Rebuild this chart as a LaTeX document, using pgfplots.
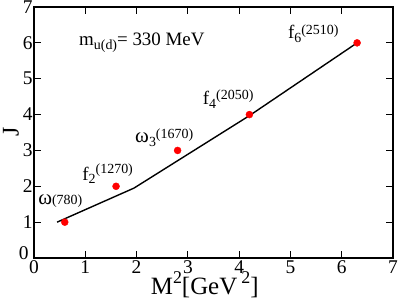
\documentclass[border=0pt]{standalone}
\usepackage{fontspec}
\setmainfont{Liberation Serif}
\usepackage{pgfplots}
\pgfplotsset{compat=1.18}
\newcommand{\an}{\fontsize{19}{19}\selectfont}
\newcommand{\sm}{\fontsize{14}{14}\selectfont}
\begin{document}
\begin{tikzpicture}
\begin{axis}[
  scale only axis, width=359bp, height=251bp,
  xmin=0, xmax=7, ymin=0, ymax=7,
  xtick={0,1,2,3,4,5,6,7}, ytick={1,2,3,4,5,6,7},
  extra y ticks={0},
  extra y tick style={yticklabel style={yshift=5bp, xshift=-4bp}},
  tick align=inside, major tick length=7bp,
  axis line style={line width=1.3bp},
  every tick/.style={line width=0.8bp, black},
  /pgf/number format/assume math mode=true,
  tick label style={font=\fontsize{19.5}{19.5}\selectfont},
  xticklabel style={yshift=1bp},
  yticklabel style={xshift=2bp},
  clip=false,
]
\addplot[black, line width=1.4bp] coordinates {(0.45,1.0) (1.95,1.95) (4.2,3.97) (6.3,6.0)};
\addplot[only marks, mark=*, mark size=3.5bp, red, mark options={draw=red, fill=red}] coordinates {(0.6,1) (1.6,2) (2.8,3) (4.2,4) (6.3,6)};
\node[anchor=west, inner sep=0pt, font=\an] at (axis cs:0.877,6.0) {m\raisebox{-0.45ex}{\sm u(d)}= 330 MeV};
\node[anchor=west, inner sep=0pt, font=\an] at (axis cs:0.08,1.58) {\fontsize{21}{21}\selectfont ω{\sm (780)}};
\node[anchor=west, inner sep=0pt, font=\an] at (axis cs:0.94,2.34) {f\raisebox{-0.45ex}{\sm 2}\raisebox{0.7ex}{\sm (1270)}};
\node[anchor=west, inner sep=0pt, font=\an] at (axis cs:1.97,3.36) {{\fontsize{21}{21}\selectfont ω}\raisebox{-0.45ex}{\sm 3}\raisebox{0.5ex}{\sm (1670)}};
\node[anchor=west, inner sep=0pt, font=\an] at (axis cs:3.29,4.43) {f\raisebox{-0.45ex}{\sm 4}\raisebox{0.5ex}{\sm (2050)}};
\node[anchor=west, inner sep=0pt, font=\an] at (axis cs:4.95,6.25) {f\raisebox{-0.45ex}{\sm 6}\raisebox{0.5ex}{\sm (2510)}};
\node[anchor=base, inner sep=0pt, font=\fontsize{25}{25}\selectfont] at (axis cs:3.33,-1.03) {M\raisebox{1.0ex}{\fontsize{18}{18}\selectfont 2}[GeV\,\raisebox{1.0ex}{\fontsize{18}{18}\selectfont 2}]};
\node[rotate=90, inner sep=0pt, font=\fontsize{24}{24}\selectfont] at (axis cs:-0.45,3.51) {J};
\coordinate (BL) at (rel axis cs:0,0);
\coordinate (TR) at (rel axis cs:1,1);
\end{axis}
\pgfresetboundingbox
\path ([shift={(-34bp,-45bp)}]BL) rectangle ([shift={(6bp,7bp)}]TR);
\end{tikzpicture}
\end{document}
